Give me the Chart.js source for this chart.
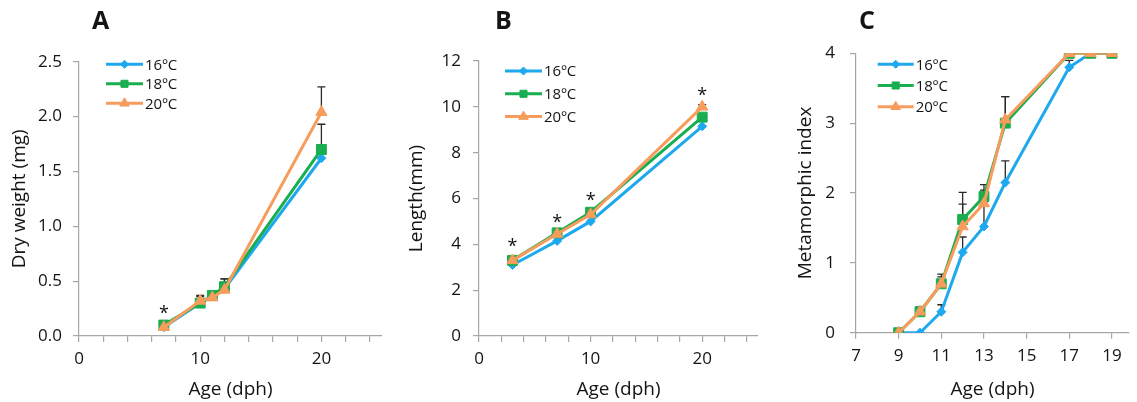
<!doctype html>
<html lang="en">
  <head>
    <meta charset="utf-8">
    <title>Growth and metamorphosis at 16, 18 and 20 ºC</title>
    <style>
      body { margin: 0; background: #fff; width: 1137px; height: 402px; position: relative; overflow: hidden; }
      .panel { position: absolute; top: 0; height: 402px; }
    </style>
  </head>
  <body>
    <div class="panel" style="left:0;width:390px"><canvas id="chartA"></canvas></div>
    <div class="panel" style="left:390px;width:380px"><canvas id="chartB"></canvas></div>
    <div class="panel" style="left:770px;width:367px"><canvas id="chartC"></canvas></div>

    <script src="https://cdn.jsdelivr.net/npm/chart.js"></script>
    <script>
      const seriesNames = ['16ºC', '18ºC', '20ºC'];
      const seriesColors = ['#1ea8ee', '#19ae4f', '#f79c5c'];
      const seriesMarkers = ['rectRot', 'rect', 'triangle'];

      // A - dry weight (mg)
      const ageA = [7, 10, 11, 12, 20];
      const dryWeight16 = [0.08, 0.30, 0.36, 0.43, 1.62];
      const dryWeight18 = [0.10, 0.30, 0.37, 0.45, 1.70];
      const dryWeight20 = [0.08, 0.32, 0.35, 0.42, 2.04];
      const dryWeightErr16 = [null, null, null, null, null];
      const dryWeightErr18 = [null, 0.06, null, 0.07, 0.23];
      const dryWeightErr20 = [null, 0.05, null, 0.10, 0.23];
      const starsA = [[7, 0.24]];
      const xTicksA = [0, 2, 4, 6, 8, 10, 12, 14, 16, 18, 20, 22, 24];
      const xLabelsA = [0, 10, 20];
      const yTicksA = [0, 0.5, 1.0, 1.5, 2.0, 2.5];

      // B - length (mm)
      const ageB = [3, 7, 10, 20];
      const length16 = [3.1, 4.15, 5.0, 9.15];
      const length18 = [3.3, 4.5, 5.4, 9.55];
      const length20 = [3.3, 4.45, 5.3, 10.0];
      const lengthErr16 = [null, null, null, null];
      const lengthErr18 = [null, null, null, null];
      const lengthErr20 = [null, null, null, 0.1];
      const starsB = [[3, 4.05], [7, 5.1], [10, 6.08], [20, 10.67]];
      const xTicksB = [0, 2, 4, 6, 8, 10, 12, 14, 16, 18, 20, 22, 24];
      const xLabelsB = [0, 10, 20];
      const yTicksB = [0, 2, 4, 6, 8, 10, 12];

      // C - metamorphic index
      const ageC = [9, 10, 11, 12, 13, 14, 17, 18, 19];
      const meta16 = [0, 0, 0.3, 1.15, 1.52, 2.15, 3.8, 4, 4];
      const meta18 = [0, 0.3, 0.7, 1.62, 1.95, 3.0, 4, 4, 4];
      const meta20 = [0, 0.3, 0.7, 1.52, 1.85, 3.05, 4, 4, 4];
      const metaErr16 = [null, null, 0.1, 0.22, 0.35, 0.31, 0.1, null, null];
      const metaErr18 = [null, 0.07, 0.14, 0.39, 0.17, 0.38, null, null, null];
      const metaErr20 = [null, 0.05, 0.1, 0.32, 0.19, 0.33, null, null, null];
      const xTicksC = [7, 9, 11, 13, 15, 17, 19];
      const xLabelsC = xTicksC;
      const yTicksC = [0, 1, 2, 3, 4];

      Chart.defaults.font.family = '"Open Sans", Lato, sans-serif';
      Chart.defaults.color = '#141414';

      // upper error bars, drawn under the markers
      const errorBars = {
        id: 'errorBars',
        beforeDatasetsDraw(chart) {
          const ctx = chart.ctx;
          const xs = chart.scales.x, ys = chart.scales.y;
          ctx.save();
          ctx.strokeStyle = '#2b2b2b';
          ctx.lineWidth = 1.3;
          chart.data.datasets.forEach(ds => {
            (ds.err || []).forEach((e, i) => {
              if (e == null) return;
              const px = xs.getPixelForValue(ds.data[i].x);
              const y0 = ys.getPixelForValue(ds.data[i].y);
              const y1 = ys.getPixelForValue(ds.data[i].y + e);
              ctx.beginPath();
              ctx.moveTo(px, y0); ctx.lineTo(px, y1);
              ctx.moveTo(px - 4, y1); ctx.lineTo(px + 4, y1);
              ctx.stroke();
            });
          });
          ctx.restore();
        }
      };

      // asterisks, panel letter and the Excel-style legend
      const decorations = {
        id: 'decorations',
        afterDraw(chart, args, opts) {
          const ctx = chart.ctx;
          const xs = chart.scales.x, ys = chart.scales.y;
          ctx.save();
          ctx.fillStyle = '#141414';
          ctx.font = 'bold 25px "Open Sans"';
          ctx.textAlign = 'left';
          ctx.textBaseline = 'alphabetic';
          ctx.fillText(opts.letter, opts.letterX, 29);

          ctx.font = '18px "Open Sans"';
          ctx.textAlign = 'center';
          ctx.textBaseline = 'middle';
          (opts.stars || []).forEach(s => {
            ctx.fillText('*', xs.getPixelForValue(s[0]), ys.getPixelForValue(s[1]) + 4);
          });

          const lg = opts.legend;
          chart.data.datasets.forEach((ds, i) => {
            const y = lg.y + i * lg.gap;
            ctx.strokeStyle = ds.borderColor;
            ctx.fillStyle = ds.borderColor;
            ctx.lineWidth = 3;
            ctx.beginPath();
            ctx.moveTo(lg.x, y); ctx.lineTo(lg.x + lg.len, y);
            ctx.stroke();
            ctx.lineWidth = 1;
            Chart.helpers.drawPoint(ctx, {pointStyle: ds.pointStyle, radius: [4, 5, 5.5][i], rotation: 0, borderWidth: 1},
              lg.x + lg.len / 2, y);
            ctx.fillStyle = '#141414';
            ctx.font = '15px "Open Sans"';
            ctx.textAlign = 'left';
            ctx.fillText(ds.label, lg.x + lg.len + 2, y + 1);
          });
          ctx.restore();
        }
      };

      function makeDatasets(ages, values, errs) {
        return values.map((vals, i) => ({
          label: seriesNames[i],
          data: ages.map((a, k) => ({x: a, y: vals[k]})),
          err: errs[i],
          borderColor: seriesColors[i],
          backgroundColor: seriesColors[i],
          pointStyle: seriesMarkers[i],
          pointRadius: [4.5, 7, 6.5][i],
          pointBorderWidth: 1,
          borderWidth: 3,
          tension: 0,
          order: 3 - i
        }));
      }

      function makeChart(id, cfg) {
        const axisGrid = {display: true, drawOnChartArea: false, drawTicks: true, tickLength: 6, color: '#a6a6a6', lineWidth: 1.2};
        const axisBorder = {color: '#a6a6a6', width: 1.2};
        return new Chart(document.getElementById(id), {
          type: 'line',
          data: {datasets: cfg.datasets},
          options: {
            responsive: true,
            maintainAspectRatio: false,
            animation: false,
            events: [],
            layout: {padding: {top: cfg.top, right: cfg.right, left: 0, bottom: 0}},
            scales: {
              x: {
                type: 'linear', min: cfg.xMin, max: cfg.xMax,
                grid: axisGrid, border: axisBorder,
                afterBuildTicks: s => { s.ticks = cfg.xTicks.map(v => ({value: v})); },
                afterFit: s => { s.height = cfg.xHeight; },
                ticks: {
                  font: {size: 17}, padding: 7, maxRotation: 0, autoSkip: false,
                  callback: v => cfg.xLabels.includes(v) ? String(v) : ''
                },
                title: {display: true, text: 'Age (dph)', font: {size: 19}, padding: {top: 0, bottom: 1}}
              },
              y: {
                type: 'linear', min: cfg.yTicks[0], max: cfg.yTicks[cfg.yTicks.length - 1],
                grid: axisGrid, border: axisBorder,
                afterBuildTicks: s => { s.ticks = cfg.yTicks.map(v => ({value: v})); },
                afterFit: s => { s.width = cfg.yWidth; },
                ticks: {font: {size: 17}, padding: cfg.yPad, callback: cfg.yFormat},
                title: {display: true, text: cfg.yTitle, font: {size: 19}, padding: {top: cfg.yTitlePad, bottom: 0}}
              }
            },
            plugins: {
              legend: {display: false},
              tooltip: {enabled: false},
              decorations: {letter: cfg.letter, letterX: cfg.letterX, stars: cfg.stars, legend: cfg.legend}
            }
          },
          plugins: [errorBars, decorations]
        });
      }

      makeChart('chartA', {
        datasets: makeDatasets(ageA, [dryWeight16, dryWeight18, dryWeight20], [dryWeightErr16, dryWeightErr18, dryWeightErr20]),
        xMin: 0, xMax: 25, xTicks: xTicksA, xLabels: xLabelsA,
        yTicks: yTicksA, yFormat: v => v.toFixed(1), yTitle: 'Dry weight (mg)',
        top: 61.7, right: 5, xHeight: 66, yWidth: 79, yPad: 11, yTitlePad: 8,
        letter: 'A', letterX: 92, stars: starsA,
        legend: {x: 106, y: 64.3, gap: 19.5, len: 37}
      });

      makeChart('chartB', {
        datasets: makeDatasets(ageB, [length16, length18, length20], [lengthErr16, lengthErr18, lengthErr20]),
        xMin: 0, xMax: 25, xTicks: xTicksB, xLabels: xLabelsB,
        yTicks: yTicksB, yFormat: v => String(v), yTitle: 'Length(mm)',
        top: 61, right: 12, xHeight: 66, yWidth: 89, yPad: 12, yTitlePad: 15,
        letter: 'B', letterX: 105, stars: starsB,
        legend: {x: 115, y: 71, gap: 22.8, len: 37}
      });

      makeChart('chartC', {
        datasets: makeDatasets(ageC, [meta16, meta18, meta20], [metaErr16, metaErr18, metaErr20]),
        xMin: 7, xMax: 19.8, xTicks: xTicksC, xLabels: xLabelsC,
        yTicks: yTicksC, yFormat: v => String(v), yTitle: 'Metamorphic index',
        top: 53.3, right: 0, xHeight: 69.3, yWidth: 86, yPad: 15, yTitlePad: 24,
        letter: 'C', letterX: 89, stars: [],
        legend: {x: 107.7, y: 64.3, gap: 21.2, len: 36}
      });
    </script>
  </body>
</html>
